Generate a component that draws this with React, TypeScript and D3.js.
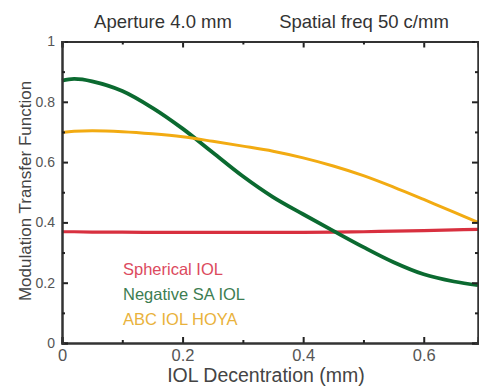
import React, { useEffect, useRef } from 'react';
import * as d3 from 'd3';

// decentration (mm)
const decentration = [0, 0.02, 0.05, 0.1, 0.15, 0.2, 0.25, 0.3, 0.35, 0.4, 0.45, 0.5, 0.55, 0.6, 0.65, 0.69];
// MTF values
const sphericalIOL = [0.369, 0.369, 0.368, 0.368, 0.367, 0.367, 0.367, 0.367, 0.367, 0.367, 0.368, 0.369, 0.371, 0.373, 0.375, 0.377];
const negativeSAIOL = [0.870, 0.876, 0.868, 0.836, 0.780, 0.711, 0.632, 0.553, 0.484, 0.427, 0.372, 0.318, 0.268, 0.228, 0.204, 0.192];
const abcIOLHoya = [0.698, 0.702, 0.704, 0.701, 0.694, 0.684, 0.669, 0.653, 0.636, 0.614, 0.587, 0.555, 0.517, 0.476, 0.434, 0.400];

const seriesNames = ['Spherical IOL', 'Negative SA IOL', 'ABC IOL HOYA'];
const seriesColors = ['#d8303f', '#0b6a30', '#f2ab12'];
const legendColors = ['#dc4a5e', '#3d7d52', '#e9b23c'];

const xMajor = [0, 0.2, 0.4, 0.6];
const xMinor = [0.1, 0.3, 0.5];
const yMajor = [0, 0.2, 0.4, 0.6, 0.8, 1];
const yMinor = [0.1, 0.3, 0.5, 0.7, 0.9];

const titles = ['Aperture 4.0 mm', 'Spatial freq 50 c/mm'];

const FONT = '"Liberation Sans", Arial, Helvetica, sans-serif';

export default function App() {
  const ref = useRef<SVGSVGElement>(null);

  useEffect(() => {
    const width = 479;
    const height = 386;
    const margin = { top: 41.5, right: 1, bottom: 43, left: 62 };
    const innerW = width - margin.left - margin.right;
    const innerH = height - margin.top - margin.bottom;

    const svg = d3.select(ref.current);
    svg.selectAll('*').remove();

    const g = svg.append('g').attr('transform', `translate(${margin.left},${margin.top})`);

    const x = d3.scaleLinear().domain([0, 0.69]).range([0, innerW]);
    const y = d3.scaleLinear().domain([0, 1]).range([innerH, 0]);

    const fmt = (d: any) => (d === 0 || d === 1 ? String(d) : d3.format('.1f')(d));

    // lines
    const all = [sphericalIOL, negativeSAIOL, abcIOLHoya];
    const line = d3.line<number>()
      .x((_, i) => x(decentration[i]))
      .y(d => y(d))
      .curve(d3.curveCatmullRom);

    const widths = [3.2, 3.8, 3];
    all.forEach((vals, i) => {
      g.append('path')
        .attr('d', line(vals))
        .attr('fill', 'none')
        .attr('stroke', seriesColors[i])
        .attr('stroke-width', widths[i]);
    });

    // axes - ticks inward
    const axisStyle = (size: number) => (sel: any) => {
      sel.select('.domain').attr('stroke', '#333').attr('stroke-width', 2);
      sel.selectAll('.tick line').attr('stroke', '#222').attr('stroke-width', 2);
      sel.selectAll('.tick text')
        .attr('fill', '#555')
        .style('font-family', FONT)
        .style('font-size', `${size}px`);
    };

    g.append('g')
      .attr('transform', `translate(0,${innerH})`)
      .call(d3.axisBottom(x).tickValues(xMajor).tickSize(-6).tickPadding(6).tickFormat(fmt))
      .call(axisStyle(16.5));
    g.append('g')
      .attr('transform', `translate(0,${innerH})`)
      .call(d3.axisBottom(x).tickValues(xMinor).tickSize(-3).tickFormat(() => ''))
      .call(axisStyle(14));
    g.append('g')
      .call(d3.axisTop(x).tickValues(xMajor).tickSize(-6).tickFormat(() => ''))
      .call(axisStyle(14));
    g.append('g')
      .call(d3.axisTop(x).tickValues(xMinor).tickSize(-3).tickFormat(() => ''))
      .call(axisStyle(14));

    g.append('g')
      .call(d3.axisLeft(y).tickValues(yMajor).tickSize(-6).tickPadding(7).tickFormat(fmt))
      .call(axisStyle(14));
    g.append('g')
      .call(d3.axisLeft(y).tickValues(yMinor).tickSize(-3).tickFormat(() => ''))
      .call(axisStyle(14));
    g.append('g')
      .attr('transform', `translate(${innerW},0)`)
      .call(d3.axisRight(y).tickValues(yMajor).tickSize(-6).tickFormat(() => ''))
      .call(axisStyle(14));
    g.append('g')
      .attr('transform', `translate(${innerW},0)`)
      .call(d3.axisRight(y).tickValues(yMinor).tickSize(-3).tickFormat(() => ''))
      .call(axisStyle(14));

    // titles
    svg.append('text')
      .attr('x', 163).attr('y', 28)
      .attr('text-anchor', 'middle')
      .style('font-family', FONT).style('font-size', '18.5px')
      .attr('fill', '#333')
      .text(titles[0]);
    svg.append('text')
      .attr('x', 364).attr('y', 28)
      .attr('text-anchor', 'middle')
      .style('font-family', FONT).style('font-size', '18.5px')
      .attr('fill', '#333')
      .text(titles[1]);

    // axis labels
    svg.append('text')
      .attr('x', 266).attr('y', 382)
      .attr('text-anchor', 'middle')
      .style('font-family', FONT).style('font-size', '19.5px')
      .attr('fill', '#444')
      .text('IOL Decentration (mm)');
    svg.append('text')
      .attr('transform', `translate(31,191) rotate(-90)`)
      .attr('text-anchor', 'middle')
      .style('font-family', FONT).style('font-size', '17px')
      .attr('fill', '#444')
      .text('Modulation Transfer Function');

    // legend
    seriesNames.forEach((name, i) => {
      svg.append('text')
        .attr('x', 123).attr('y', 275 + i * 25)
        .style('font-family', FONT).style('font-size', '16.5px')
        .attr('fill', legendColors[i])
        .text(name);
    });
  }, []);

  return (
    <svg
      ref={ref}
      width={479}
      height={386}
      style={{ position: 'absolute', left: 0, top: 0, background: '#fff' }}
    />
  );
}
